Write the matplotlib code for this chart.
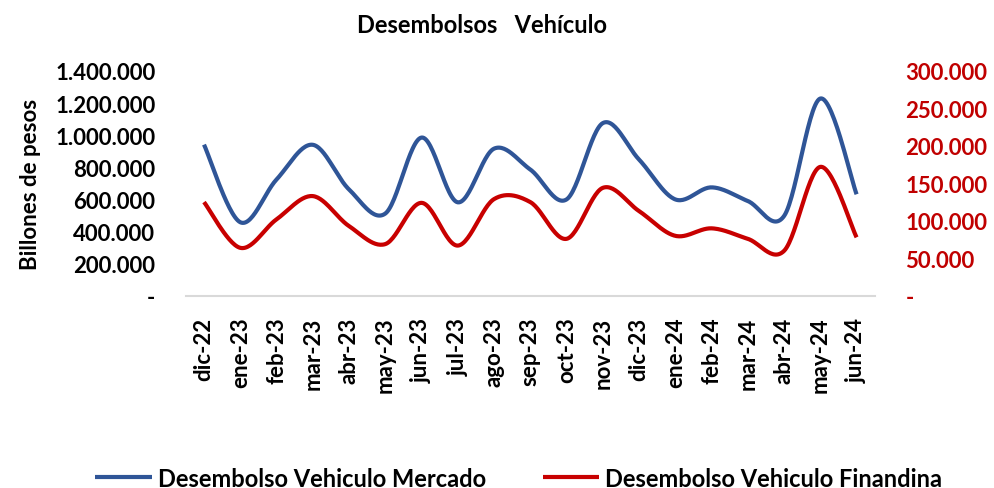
import numpy as np
import matplotlib
matplotlib.use('Agg')
import matplotlib.pyplot as plt
from matplotlib.ticker import FuncFormatter

plt.rcParams['font.family'] = ['Lato', 'DejaVu Sans']
plt.rcParams['font.weight'] = 'bold'

meses = ['dic-22', 'ene-23', 'feb-23', 'mar-23', 'abr-23', 'may-23', 'jun-23',
         'jul-23', 'ago-23', 'sep-23', 'oct-23', 'nov-23', 'dic-23', 'ene-24',
         'feb-24', 'mar-24', 'abr-24', 'may-24', 'jun-24']
mercado = [941000, 458000, 724000, 940000, 662000, 512000, 985000, 582000,
           916000, 786000, 600000, 1075000, 848000, 600000, 675000, 590000,
           497000, 1228000, 632000]
finandina = [125000, 64000, 102000, 133000, 93000, 69000, 124000, 67000,
             129000, 125000, 76000, 144000, 113000, 80000, 90000, 76000,
             60000, 172000, 78000]

azul = '#2F5597'
rojo = '#C80000'


def suavizar(x, y, n=30):
    # curva tipo Excel (Catmull-Rom / bezier)
    x = np.asarray(x, float)
    y = np.asarray(y, float)
    px = np.concatenate([[x[0]], x, [x[-1]]])
    py = np.concatenate([[y[0]], y, [y[-1]]])
    xs, ys = [], []
    t = np.linspace(0, 1, n)
    for i in range(1, len(px) - 2):
        p0x, p1x, p2x, p3x = px[i-1], px[i], px[i+1], px[i+2]
        p0y, p1y, p2y, p3y = py[i-1], py[i], py[i+1], py[i+2]
        c1x = p1x + (p2x - p0x) / 6
        c1y = p1y + (p2y - p0y) / 6
        c2x = p2x - (p3x - p1x) / 6
        c2y = p2y - (p3y - p1y) / 6
        bx = (1-t)**3*p1x + 3*(1-t)**2*t*c1x + 3*(1-t)*t**2*c2x + t**3*p2x
        by = (1-t)**3*p1y + 3*(1-t)**2*t*c1y + 3*(1-t)*t**2*c2y + t**3*p2y
        xs.extend(bx)
        ys.extend(by)
    return np.array(xs), np.array(ys)


def miles(v, pos):
    if v == 0:
        return '-'
    return '{:,.0f}'.format(v).replace(',', '.')


fig = plt.figure(figsize=(9.94, 4.89), dpi=100)
ax = fig.add_axes([0.187, 0.393, 0.693, 0.46])
ax2 = ax.twinx()

x = np.arange(len(meses))
xs, ys = suavizar(x, mercado)
l1, = ax.plot(xs, ys, color=azul, lw=3, solid_capstyle='butt')
xs, ys = suavizar(x, finandina)
l2, = ax2.plot(xs, ys, color=rojo, lw=3, solid_capstyle='butt')

ax.set_xlim(-0.5, len(meses) - 0.5)
ax.set_ylim(0, 1400000)
ax2.set_ylim(0, 300000)
ax.set_yticks(np.arange(0, 1400001, 200000))
ax2.set_yticks(np.arange(0, 300001, 50000))
ax.yaxis.set_major_formatter(FuncFormatter(miles))
ax2.yaxis.set_major_formatter(FuncFormatter(miles))

ax.set_xticks(x)
ax.set_xticklabels(meses, rotation=90, fontsize=16, fontweight='bold')
ax.tick_params(axis='x', length=0, pad=15)
ax.tick_params(axis='y', length=0, labelsize=16, pad=22)
ax2.tick_params(axis='y', length=0, labelsize=16, labelcolor='#C00000', pad=22)

for s in ['top', 'left', 'right']:
    ax.spines[s].set_visible(False)
    ax2.spines[s].set_visible(False)
ax2.spines['bottom'].set_visible(False)
ax.spines['bottom'].set_color('#D9D9D9')
ax.spines['bottom'].set_linewidth(1.5)

ax.set_ylabel('Billones de pesos', fontsize=16, fontweight='bold', labelpad=10)
fig.text(0.485, 0.948, 'Desembolsos   Vehículo', ha='center', va='center',
         fontsize=17, fontweight='bold')

fig.legend([l1, l2], ['Desembolso Vehiculo Mercado', 'Desembolso Vehiculo Finandina'],
           loc='center', bbox_to_anchor=(0.522, 0.02), ncol=2, frameon=False,
           fontsize=17, handlelength=2.4, columnspacing=2.4, handletextpad=0.25)

fig.savefig('out.png', dpi=100)
